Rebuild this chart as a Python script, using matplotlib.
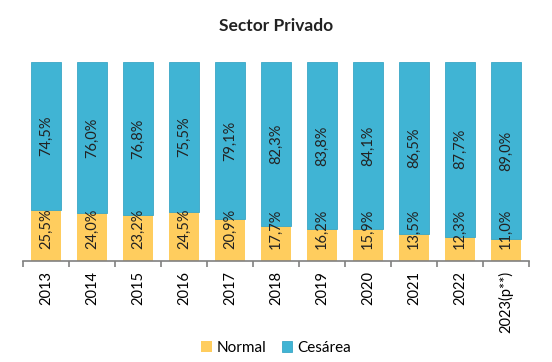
import matplotlib
matplotlib.use("Agg")
import matplotlib.pyplot as plt
import numpy as np
from matplotlib.transforms import offset_copy

years = ["2013", "2014", "2015", "2016", "2017", "2018", "2019", "2020", "2021", "2022", "2023(p**)"]
normal = [25.5, 24.0, 23.2, 24.5, 20.9, 17.7, 16.2, 15.9, 13.5, 12.3, 11.0]
cesarea = [74.5, 76.0, 76.8, 75.5, 79.1, 82.3, 83.8, 84.1, 86.5, 87.7, 89.0]

plt.rcParams['font.family'] = ['Lato', 'DejaVu Sans']
fig = plt.figure(figsize=(5.52, 3.62), dpi=100)
ax = fig.add_axes([0.0417, 0.279, 0.9166, 0.55])

x = np.arange(len(years))
c_norm = "#FFCD5E"
c_ces = "#40B4D4"
w = 0.67
b1 = ax.bar(x, normal, width=w, color=c_norm, label="Normal")
b2 = ax.bar(x, cesarea, width=w, bottom=normal, color=c_ces, edgecolor="#3AA6C6", linewidth=0.6, label="Cesárea")

def fmt(v):
    return f"{v:.1f}%".replace(".", ",")

base_tr = offset_copy(ax.transData, fig=fig, x=0, y=12, units="dots")
for i in range(len(years)):
    ax.text(x[i], 0, fmt(normal[i]), rotation=90, ha="center", va="bottom", fontsize=10.5,
            color="#222222", transform=base_tr)
    ax.text(x[i], normal[i] + cesarea[i] / 2, fmt(cesarea[i]), rotation=90, ha="center", va="center",
            fontsize=10.5, color="#222222")

ax.set_xlim(-0.5, len(years) - 0.5)
ax.set_ylim(0, 100)
ax.set_yticks([])
for s in ["top", "right", "left"]:
    ax.spines[s].set_visible(False)
ax.spines["bottom"].set_color("#808080")
ax.spines["bottom"].set_linewidth(1.2)
ax.set_xticks(x)
ax.set_xticklabels(years, rotation=90, fontsize=10.5)
ax.tick_params(axis="x", which="major", length=0, pad=7)
ax.set_xticks(np.arange(-0.5, len(years)), minor=True)
ax.tick_params(axis="x", which="minor", length=4, color="#808080", width=1.2)

fig.suptitle("Sector Privado", x=0.5, y=0.95, fontsize=12.5, fontweight="bold", color="#222222")
fig.legend(handles=[b1, b2], loc="center", bbox_to_anchor=(0.5, 0.04), ncol=2, frameon=False,
           fontsize=11, handlelength=0.7, handleheight=0.7, handletextpad=0.3, columnspacing=1.0)
fig.savefig("out.png", dpi=100)
